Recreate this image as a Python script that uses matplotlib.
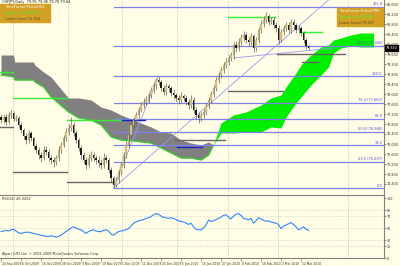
import matplotlib
matplotlib.use("Agg")
import matplotlib.pyplot as plt
import matplotlib.transforms as mtransforms
import numpy as np

# ---------------- data ----------------
opens = [77.10, 76.96, 77.08, 76.88, 77.16, 77.24, 77.00, 77.04, 76.76, 76.56,
         76.32, 76.16, 76.44, 76.24, 75.92, 75.76, 75.56, 75.44, 75.76, 75.68,
         75.44, 75.36, 75.28, 75.44, 75.76, 75.96, 76.24, 76.48, 76.64, 76.76,
         76.44, 76.16, 75.84, 75.56, 75.36, 75.16, 75.44, 75.56, 75.44, 75.36,
         75.24, 75.16, 75.44, 75.36, 74.96, 74.64, 74.36, 74.56, 74.88, 75.16,
         75.56, 75.96, 76.36, 76.76, 76.96, 77.16, 77.36, 77.56, 77.68, 77.76,
         77.96, 78.16, 78.36, 78.56, 78.48, 78.24, 78.08, 78.32, 78.24, 78.04,
         77.96, 77.84, 77.76, 77.92, 77.84, 77.68, 77.56, 77.76, 77.36, 77.16,
         77.04, 77.16, 77.28, 77.52, 77.76, 78.00, 78.24, 78.56, 78.76, 78.96,
         79.16, 79.28, 79.44, 79.56, 79.96, 79.84, 80.08, 80.24, 80.36, 80.16,
         80.08, 80.32, 79.84, 80.16, 80.56, 80.80, 80.96, 81.12, 80.88, 80.96,
         80.76, 80.64, 80.16, 80.48, 80.64, 80.76, 80.56, 80.88, 80.76, 80.56,
         80.64, 80.44, 80.16, 79.92]
closes = [76.96, 77.08, 76.88, 77.16, 77.24, 77.00, 77.04, 76.76, 76.56, 76.32,
          76.16, 76.44, 76.24, 75.92, 75.76, 75.56, 75.44, 75.76, 75.68, 75.44,
          75.36, 75.28, 75.44, 75.76, 75.96, 76.24, 76.48, 76.64, 76.76, 76.44,
          76.16, 75.84, 75.56, 75.36, 75.16, 75.44, 75.56, 75.44, 75.36, 75.24,
          75.16, 75.44, 75.36, 74.96, 74.64, 74.36, 74.56, 74.88, 75.16, 75.56,
          75.96, 76.36, 76.76, 76.96, 77.16, 77.36, 77.56, 77.68, 77.76, 77.96,
          78.16, 78.36, 78.56, 78.48, 78.24, 78.08, 78.32, 78.24, 78.04, 77.96,
          77.84, 77.76, 77.92, 77.84, 77.68, 77.56, 77.76, 77.36, 77.16, 77.04,
          77.16, 77.28, 77.52, 77.76, 78.00, 78.24, 78.56, 78.76, 78.96, 79.16,
          79.28, 79.44, 79.56, 79.96, 79.84, 80.08, 80.24, 80.36, 80.16, 80.08,
          80.32, 79.84, 80.16, 80.56, 80.80, 80.96, 81.12, 80.88, 80.96, 80.76,
          80.64, 80.16, 80.48, 80.64, 80.76, 80.56, 80.88, 80.76, 80.56, 80.64,
          80.44, 80.16, 79.92, 79.84]
highs = [77.22, 77.20, 77.18, 77.30, 77.36, 77.32, 77.16, 77.12, 76.88, 76.66,
         76.44, 76.58, 76.52, 76.30, 76.04, 75.88, 75.70, 75.90, 75.92, 75.80,
         75.58, 75.50, 75.58, 75.90, 76.10, 76.38, 76.62, 76.80, 77.08, 76.88,
         76.56, 76.24, 75.96, 75.70, 75.48, 75.60, 75.72, 75.68, 75.56, 75.52,
         75.40, 75.62, 75.56, 75.46, 75.08, 74.74, 74.70, 75.00, 75.30, 75.68,
         76.12, 76.50, 76.90, 77.10, 77.30, 77.48, 77.70, 77.84, 77.92, 78.10,
         78.30, 78.50, 78.66, 78.72, 78.58, 78.36, 78.44, 78.42, 78.34, 78.18,
         78.06, 77.98, 78.08, 78.02, 77.96, 77.80, 77.96, 77.88, 77.50, 77.30,
         77.30, 77.42, 77.64, 77.88, 78.12, 78.38, 78.68, 78.90, 79.10, 79.30,
         79.44, 79.58, 79.70, 80.10, 80.12, 80.24, 80.40, 80.52, 80.48, 80.30,
         80.46, 80.42, 80.30, 80.70, 80.96, 81.12, 81.28, 81.22, 81.10, 81.08,
         80.90, 80.78, 80.60, 80.76, 80.90, 80.88, 81.02, 81.00, 80.86, 80.78,
         80.72, 80.52, 80.24, 79.98]
lows = [76.84, 76.86, 76.78, 76.80, 77.04, 76.92, 76.90, 76.66, 76.44, 76.20,
        76.02, 76.06, 76.12, 75.80, 75.64, 75.42, 75.30, 75.36, 75.56, 75.32,
        75.22, 75.10, 75.16, 75.34, 75.66, 75.88, 76.12, 76.38, 76.52, 76.32,
        76.04, 75.72, 75.42, 75.24, 75.00, 75.04, 75.32, 75.34, 75.22, 75.10,
        75.00, 75.06, 75.24, 74.84, 74.50, 74.24, 74.28, 74.46, 74.78, 75.06,
        75.46, 75.86, 76.24, 76.64, 76.84, 77.04, 77.26, 77.44, 77.56, 77.66,
        77.84, 78.04, 78.22, 78.36, 78.12, 77.96, 77.98, 78.10, 77.90, 77.82,
        77.72, 77.62, 77.66, 77.72, 77.54, 77.42, 77.44, 77.24, 77.02, 76.84,
        76.92, 77.04, 77.16, 77.40, 77.64, 77.88, 78.12, 78.44, 78.64, 78.84,
        79.04, 79.16, 79.32, 79.40, 79.70, 79.72, 79.96, 80.12, 80.04, 79.94,
        79.96, 79.70, 79.72, 80.04, 80.44, 80.70, 80.84, 80.76, 80.80, 80.64,
        80.50, 80.02, 80.08, 80.36, 80.52, 80.44, 80.44, 80.62, 80.44, 80.46,
        80.32, 80.04, 79.80, 79.76]
rsi = [44, 45, 46, 45, 47, 48, 45, 42, 41, 42,
       43, 43, 42, 41, 40, 39, 38, 37, 36, 36,
       37, 36, 35, 36, 38, 41, 44, 47, 50, 52,
       50, 48, 47, 44, 41, 44, 46, 47, 45, 44,
       44, 46, 47, 45, 40, 38, 41, 44, 45, 46,
       47, 49, 53, 58, 60, 62, 63, 64, 66, 67,
       69, 72, 74, 73, 70, 68, 67, 66, 67, 66,
       64, 62, 61, 60, 58, 56, 58, 52, 48, 47,
       47, 50, 55, 63, 61, 62, 64, 66, 68, 71,
       72, 68, 65, 70, 73, 74, 71, 66, 65, 64,
       66, 58, 62, 67, 65, 63, 61, 62, 60, 59,
       58, 56, 49, 53, 55, 57, 59, 56, 52, 47,
       49, 52, 48, 46]

# Ichimoku cloud (bar index, upper edge, lower edge)
kumo_bear_bars = [0, 5, 5.5, 13, 13.5, 17, 20, 27, 31, 36, 40, 44, 48, 53, 60, 64, 68, 72, 76, 80, 83, 85]
kumo_bear_top = [79.56, 79.56, 79.28, 79.28, 79.16, 78.88, 78.68, 77.84, 77.84, 77.76, 77.48, 77.36,
                 77.16, 76.96, 76.68, 76.48, 76.44, 76.16, 76.04, 75.96, 76.08, 75.96]
kumo_bear_bot = [78.76, 78.68, 78.56, 78.56, 78.48, 78.28, 77.88, 77.28, 77.04, 76.96, 76.76, 76.28,
                 76.16, 76.12, 76.04, 75.84, 75.64, 75.44, 75.44, 75.36, 75.56, 75.96]
kumo_bull_bars = [85, 88, 93, 98, 104, 108, 112, 114, 118, 120, 124, 128, 131, 133, 136, 140, 144, 149]
kumo_bull_top = [75.96, 76.84, 77.16, 77.28, 77.56, 77.84, 77.96, 78.28, 78.84, 79.16, 79.56, 79.88,
                 79.96, 80.16, 80.24, 80.36, 80.44, 80.44]
kumo_bull_bot = [75.96, 76.44, 76.44, 76.48, 76.48, 76.68, 76.64, 77.08, 77.64, 77.88, 78.36, 78.76,
                 79.08, 79.64, 79.84, 79.92, 79.88, 79.88]

# Timeframe pivot levels: (start bar, end bar, price)
upper_levels = [(-0.4, 4.8, 78.88), (4.8, 26.4, 77.84), (26.4, 48.4, 76.96),
                (90.8, 109.6, 81.08), (119.6, 128.4, 80.48)]
lower_levels = [(-0.4, 4.8, 76.68), (4.8, 26.4, 74.88), (26.4, 44.8, 74.48),
                (69.6, 89.6, 76.16), (90.8, 112.8, 78.12), (110.4, 137.6, 79.60),
                (120.4, 126.8, 79.28)]
kijun_segments = [(48.4, 57.6, 76.96), (70.4, 80.4, 75.88)]

# Fibonacci retracement
fib_start_bar = 45
fib_prices = [74.24, 75.30, 75.95, 76.48, 77.01, 77.66, 78.72, 79.94, 81.49]
fib_labels = ["0.0", "23.6 (75.297)", "38.2", "50.0 (76.480)", "61.8",
              "76.4 (77.663)", "100.0", "127.2 (79.942)", "161.8"]

# trend lines (bar, price) pairs
trend_lines = [((45, 131), (74.24, 81.76)), ((45, 63), (74.24, 78.72)), ((93, 133), (79.44, 79.84))]

month_grid_bars = [4.8, 26.8, 48.4, 70.4, 90.8, 110.8, 138.8]
date_tick_bars = [0, 8, 16, 24, 32, 40, 48, 56, 64, 72, 80, 88, 96, 104, 112, 120]
date_labels = ["24 Sep 2009", "6 Oct 2009", "16 Oct 2009", "28 Oct 2009", "9 Nov 2009",
               "19 Nov 2009", "1 Dec 2009", "11 Dec 2009", "23 Dec 2009", "5 Jan 2010",
               "15 Jan 2010", "27 Jan 2010", "8 Feb 2010", "18 Feb 2010", "2 Mar 2010",
               "12 Mar 2010"]
price_ticks = [74.4, 74.8, 75.2, 75.6, 76.0, 76.4, 76.8, 77.2, 77.6, 78.0,
               78.4, 78.8, 79.2, 79.6, 80.0, 80.4, 80.8, 81.2, 81.6]
rsi_ticks = [0, 20, 30, 50, 70, 80, 100]
rsi_grid = [20, 30, 50, 70, 80]

# ---------------- figure ----------------
bg = "#FFFDE6"
fig = plt.figure(figsize=(4, 2.66), dpi=100)
fig.patch.set_facecolor(bg)
W, H = 400, 266
ax = fig.add_axes([0, (H - 194) / H, 384 / W, 194 / H])
rax = fig.add_axes([0, (H - 258) / H, 384 / W, 63 / H])
for a in (ax, rax):
    a.set_facecolor(bg)
    a.set_xlim(-0.4, 153.2)
    for s in a.spines.values():
        s.set_visible(False)
    a.spines["right"].set_visible(True)
    a.spines["right"].set_color("#808080")
    a.spines["right"].set_linewidth(0.8)
    a.set_xticks([])
    for mb in month_grid_bars:
        a.axvline(mb, color="#B0B0B0", lw=0.5, ls=(0, (1.5, 2)), zorder=0)
ax.set_ylim(74.0, 81.76)
rax.set_ylim(0, 105)
rax.spines["top"].set_visible(True)
rax.spines["top"].set_color("#808080")
rax.spines["bottom"].set_visible(True)
rax.spines["bottom"].set_color("#808080")

# cloud
ax.fill_between(kumo_bear_bars, kumo_bear_bot, kumo_bear_top, color="#808080", lw=0, zorder=1)
ax.fill_between(kumo_bull_bars, kumo_bull_bot, kumo_bull_top, color="#00EE00", lw=0, zorder=1)
ax.plot(kumo_bear_bars, kumo_bear_bot, color="#22DD22", lw=0.8, zorder=2)

# fib lines
x_right = 153.2
for p in fib_prices:
    ax.plot([fib_start_bar, x_right], [p, p], color="#7F7FEF", lw=0.9, zorder=3)
for p, lab in zip(fib_prices, fib_labels):
    ax.text(x_right - 0.6, p + 0.02, lab, fontsize=2.6, color="#5050D8",
            ha="right", va="bottom", zorder=6)

for (b0, b1), (p0, p1) in trend_lines:
    ax.plot([b0, b1], [p0, p1], color="#9A9AF0", lw=0.6, zorder=3)

for b0, b1, p in upper_levels:
    ax.plot([b0, b1], [p, p], color="#33EE33", lw=1.0, zorder=4)
for b0, b1, p in lower_levels:
    ax.plot([b0, b1], [p, p], color="#666666", lw=1.0, zorder=4)
for b0, b1, p in kijun_segments:
    ax.plot([b0, b1], [p, p], color="#2020C8", lw=1.0, zorder=4)

# candles
bars = np.arange(len(closes))
o = np.array(opens); c = np.array(closes)
ax.vlines(bars, lows, highs, color="#606060", lw=0.5, zorder=5)
up = c >= o
body_bot = np.minimum(o, c)
body_h = np.maximum(np.abs(c - o), 0.02)
ax.bar(bars[up], body_h[up], bottom=body_bot[up], width=0.7, color="#DCCB85",
       edgecolor="#9A8A50", lw=0.2, zorder=5)
ax.bar(bars[~up], body_h[~up], bottom=body_bot[~up], width=0.7, color="#1A1A1A",
       lw=0, zorder=5)

# price axis
ax.yaxis.tick_right()
ax.set_yticks(price_ticks)
ax.set_yticklabels(["%.3f" % t for t in price_ticks])
ax.tick_params(axis="y", labelsize=2.4, length=1.2, width=0.4, pad=1.0,
               colors="#333333")
ax.annotate("%.3f" % closes[-1], xy=(1.0, closes[-1]),
            xycoords=("axes fraction", "data"), xytext=(1.2, 0),
            textcoords="offset points", fontsize=2.4, color="white",
            va="center", ha="left",
            bbox=dict(boxstyle="square,pad=0.2", fc="black", ec="black"))

# RSI
rax.plot(bars, rsi, color="#2F86FF", lw=0.8, zorder=3)
for g in rsi_grid:
    rax.axhline(g, color="#C8C8C8", lw=0.5, ls=(0, (1.5, 2)), zorder=1)
rax.yaxis.tick_right()
rax.set_yticks(rsi_ticks)
rax.set_yticklabels([str(t) for t in rsi_ticks])
rax.tick_params(axis="y", labelsize=2.4, length=1.2, width=0.4, pad=1.0,
                colors="#333333")
rax.text(0.005, 0.97, "RSI(14) 46.3262", transform=rax.transAxes, fontsize=2.5,
         color="#333333", va="top", ha="left")
rax.text(0.005, 0.03, "Alpari (UK) Ltd. \u00a9 2001-2009 MetaQuotes Software Corp.",
         transform=rax.transAxes, fontsize=2.4, color="#333333", va="bottom", ha="left")

# date labels
trans = mtransforms.blended_transform_factory(rax.transData, rax.transAxes)
for b, lab in zip(date_tick_bars, date_labels):
    rax.plot([b, b], [0, -0.04], color="#606060", lw=0.4, transform=trans, clip_on=False)
    rax.text(b + 0.3, -0.06, lab, transform=trans, fontsize=2.2, color="#333333",
             ha="left", va="top")

# title and info boxes
ax.text(0.004, 0.998, "CHFJPY,Daily  79.95 79.96 79.76 79.84", transform=ax.transAxes,
        fontsize=2.5, color="#222222", va="top", ha="left", zorder=8)
box_c = "#D4A023"
ax.add_patch(plt.Rectangle((0, 0.886), 50 / 384, 0.093, transform=ax.transAxes,
                           color=box_c, zorder=7))
ax.text(0.012, 0.962, "TimeFrame Period W1", transform=ax.transAxes, fontsize=2.6,
        color="white", va="center", ha="left", zorder=8)
ax.text(0.012, 0.933, "Upper Level 80.583", transform=ax.transAxes, fontsize=2.6,
        color="#33FF33", va="center", ha="left", zorder=8)
ax.text(0.012, 0.904, "Lower Level 75.353", transform=ax.transAxes, fontsize=2.6,
        color="#5A4A2A", va="center", ha="left", zorder=8)
ax.add_patch(plt.Rectangle((337 / 384, 0.866), 47 / 384, 0.093, transform=ax.transAxes,
                           color=box_c, zorder=7))
ax.text(339 / 384, 0.942, "TimeFrame Period MN", transform=ax.transAxes, fontsize=2.6,
        color="white", va="center", ha="left", zorder=8)
ax.text(339 / 384, 0.913, "Upper Level 82.267", transform=ax.transAxes, fontsize=2.6,
        color="#33FF33", va="center", ha="left", zorder=8)
ax.text(339 / 384, 0.884, "Lower Level 79.467", transform=ax.transAxes, fontsize=2.6,
        color="#5A4A2A", va="center", ha="left", zorder=8)

fig.savefig("out.png", dpi=100, facecolor=bg)
